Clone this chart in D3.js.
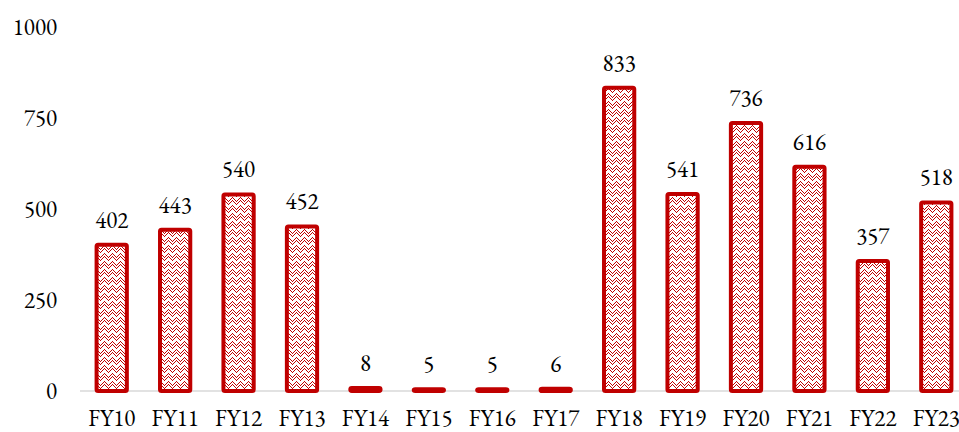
<!DOCTYPE html>
<html>
<head>
<meta charset="utf-8">
<script src="https://cdn.jsdelivr.net/npm/d3@7/dist/d3.min.js"></script>
<style>
  html, body { margin: 0; padding: 0; background: #fff; }
  svg { display: block; }
</style>
</head>
<body>
<svg id="chart" width="959" height="432"></svg>
<script>
// Fiscal years and yearly totals
const categories = ["FY10","FY11","FY12","FY13","FY14","FY15","FY16","FY17","FY18","FY19","FY20","FY21","FY22","FY23"];
const values = [402, 443, 540, 452, 8, 5, 5, 6, 833, 541, 736, 616, 357, 518];
const yTicks = [0, 250, 500, 750, 1000];

const FONT = "'EB Garamond', 'Liberation Serif'";
const FS = "23px";
const svg = d3.select("#chart");
const red = "#c00000";

// Zig-zag pixel fill used inside the bars (8x8 tile of chevrons with dotted edges)
const defs = svg.append("defs");
const pat = defs.append("pattern")
  .attr("id", "zigzag")
  .attr("patternUnits", "userSpaceOnUse")
  .attr("width", 8).attr("height", 8);
pat.append("rect").attr("width", 8).attr("height", 8).attr("fill", "#fff");
const cells = [];
for (let py = 0; py < 8; py++) {
  for (let px = 0; px < 8; px++) {
    const d = Math.min(px, 8 - px);
    const k = ((py - d) % 8 + 8) % 8;
    const odd = (px + py) % 2 === 1;
    if (k === 0 || (k === 1 && !odd) || (k === 2 && odd) || (k === 5 && odd)) {
      cells.push([px, py]);
    }
  }
}
pat.selectAll("rect.c").data(cells).join("rect")
  .attr("class", "c")
  .attr("x", d => d[0]).attr("y", d => d[1])
  .attr("width", 1).attr("height", 1)
  .attr("fill", red)
  .attr("shape-rendering", "crispEdges");

const x = d3.scaleBand()
  .domain(categories)
  .range([80, 968])
  .paddingInner(0.46)
  .paddingOuter(0.23);

const y = d3.scaleLinear()
  .domain([0, 1000])
  .range([391, 27]);

// Y axis labels (no line, no ticks)
const yAxis = d3.axisLeft(y).tickValues(yTicks).tickSize(0).tickPadding(0).tickFormat(d3.format("d"));
const gy = svg.append("g").attr("transform", "translate(57,0)").call(yAxis);
gy.select(".domain").remove();
gy.attr("font-family", null).attr("font-size", null);
gy.selectAll("text")
  .style("font-family", FONT).style("font-size", FS).style("fill", "#000")
  .attr("dy", "0.32em");

// Baseline
svg.append("line")
  .attr("x1", 80).attr("x2", 959)
  .attr("y1", y(0)).attr("y2", y(0))
  .attr("stroke", "#d9d9d9").attr("stroke-width", 1.5);

// X axis labels
const xAxis = d3.axisBottom(x).tickSize(0).tickPadding(0);
const gx = svg.append("g").call(xAxis);
gx.select(".domain").remove();
gx.attr("font-family", null).attr("font-size", null);
gx.selectAll("text")
  .style("font-family", FONT).style("font-size", FS).style("fill", "#000")
  .attr("y", 426).attr("dy", null);

// Bars
const sw = 4;
svg.append("g").selectAll("rect").data(values).join("rect")
  .attr("x", (d, i) => x(categories[i]) + sw / 2)
  .attr("width", x.bandwidth() - sw)
  .attr("y", d => y(d))
  .attr("height", d => y(0) - y(d))
  .attr("rx", 1.5)
  .attr("fill", "url(#zigzag)")
  .attr("stroke", red)
  .attr("stroke-width", sw)
  .attr("stroke-linejoin", "round");

// Value labels
svg.append("g").selectAll("text").data(values).join("text")
  .attr("x", (d, i) => x(categories[i]) + x.bandwidth() / 2)
  .attr("y", d => y(d) - 17)
  .attr("text-anchor", "middle")
  .style("font-family", FONT).style("font-size", FS).style("fill", "#000")
  .text(d => d);
</script>
</body>
</html>
